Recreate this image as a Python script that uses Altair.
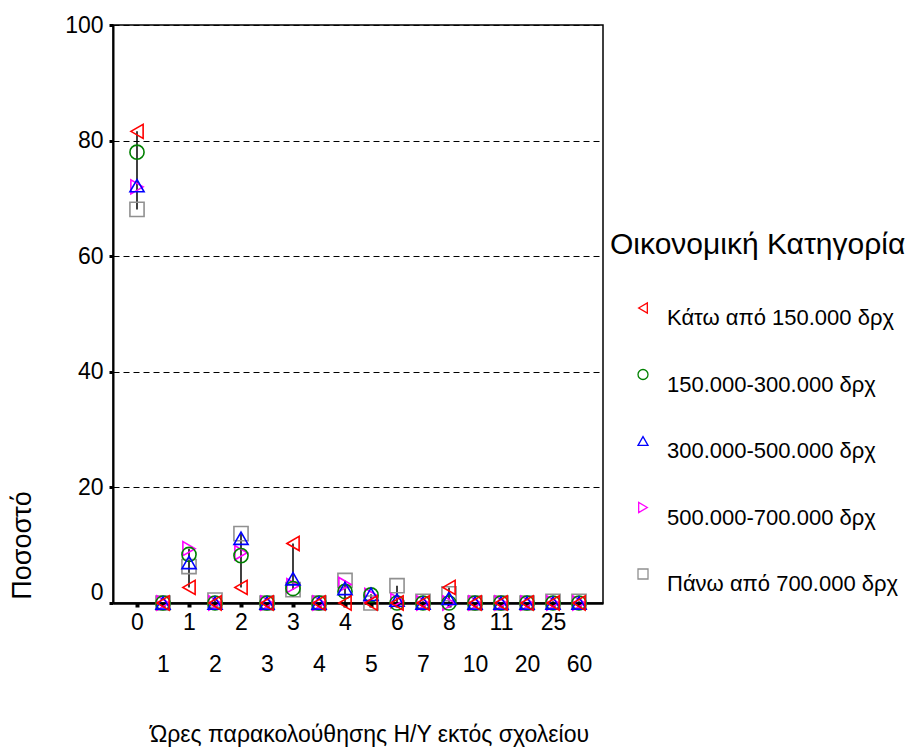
import json
import altair as alt
import pandas as pd

# Category labels (as printed on the axis, two staggered rows)
x_labels = ["0", "1", "1", "2", "2", "3", "3", "4", "4", "5", "6", "7", "8", "10", "11", "20", "25", "60"]

series_names = [
    "Κάτω από 150.000 δρχ",
    "150.000-300.000 δρχ",
    "300.000-500.000 δρχ",
    "500.000-700.000 δρχ",
    "Πάνω από 700.000 δρχ",
]

below_150 = [81.6, 0, 2.7, 0, 2.7, 0, 10.3, 0, 0, 0, 0, 0, 2.7, 0, 0, 0, 0, 0]
from_150_300 = [78.0, 0, 8.4, 0, 8.2, 0, 2.5, 0, 2.0, 1.4, 0, 0, 0, 0, 0, 0, 0, 0]
from_300_500 = [72.2, 0, 7.0, 0, 11.2, 0, 4.2, 0, 2.5, 1.5, 0.5, 0, 0.8, 0, 0, 0, 0, 0]
from_500_700 = [72.0, 0, 9.4, 0, 8.7, 0, 3.0, 0, 3.2, 1.3, 0.4, 0, 0, 0, 0, 0, 0, 0]
above_700 = [68.1, 0, 6.3, 0.5, 12.0, 0, 2.3, 0, 3.9, 0, 3.0, 0.3, 1.6, 0, 0, 0, 0.3, 0.3]

series_values = [below_150, from_150_300, from_300_500, from_500_700, above_700]
series_colors = ["#FF0000", "#008000", "#0000FF", "#FF00FF", "#909090"]
series_shapes = ["triangle-left", "circle", "triangle-up", "triangle-right", "square"]
draw_rank = [5, 3, 4, 2, 1]  # red drawn on top, gray at the bottom

rows = []
for name, vals, z in zip(series_names, series_values, draw_rank):
    for i, v in enumerate(vals):
        rows.append({"pos": i, "series": name, "value": v, "z": z})
df = pd.DataFrame(rows)

FONT = "Liberation Sans"
label_expr = json.dumps(x_labels, ensure_ascii=False) + "[datum.value]"

x_enc = alt.X(
    "pos:O",
    scale=alt.Scale(type="point", padding=0.923),
    axis=alt.Axis(
        title="Ώρες παρακολούθησης Η/Υ εκτός σχολείου",
        labelExpr=label_expr,
        labelAngle=0,
        labelFontSize=23,
        labelFont=FONT,
        labelColor="black",
        labelPadding={"condition": {"test": "datum.value % 2 == 1", "value": 46}, "value": 4},
        tickSize=4,
        tickWidth=4,
        tickColor="black",
        domainColor="black",
        domainWidth=2.5,
        titleFontSize=23,
        titleFont=FONT,
        titleFontWeight="normal",
        titleColor="black",
        titleX=256,
        titleY=138,
        titleAlign="center",
        titleBaseline="alphabetic",
        grid=False,
    ),
)

y_axis = alt.Axis(
    title="Ποσοστό",
    values=[0, 20, 40, 60, 80, 100],
    labelFontSize=23,
    labelFont=FONT,
    labelColor="black",
    labelPadding=6,
    labelOffset={"condition": {"test": "datum.value == 0", "value": -11}, "value": 0},
    tickSize=4,
    tickWidth=3,
    tickColor="black",
    domainColor="black",
    domainWidth=2,
    grid=True,
    gridColor="black",
    gridDash=[6, 4],
    gridWidth=1,
    gridOpacity=1,
    titleFontSize=27,
    titleFont=FONT,
    titleFontWeight="normal",
    titleColor="black",
    titleX=-91,
    titleY=520,
    titleAlign="center",
    titleBaseline="middle",
)
y_scale = alt.Scale(domain=[0, 100], nice=False)

legend = alt.Legend(
    title="Οικονομική Κατηγορία",
    orient="none",
    legendX=497,
    legendY=205,
    padding=0,
    titleFontSize=30,
    titleFont=FONT,
    titleFontWeight="normal",
    titleColor="black",
    titlePadding=37,
    titleLimit=500,
    labelFontSize=22,
    labelFont=FONT,
    labelColor="black",
    labelBaseline="top",
    labelLimit=500,
    labelOffset=13,
    rowPadding=34.5,
    symbolOffset=22,
    symbolSize=100,
    symbolStrokeWidth=1.3,
)

rule = (
    alt.Chart(df)
    .transform_aggregate(lo="min(value)", hi="max(value)", groupby=["pos"])
    .mark_rule(color="black", strokeWidth=1.5)
    .encode(
        x=x_enc,
        y=alt.Y("lo:Q", scale=y_scale, axis=y_axis),
        y2="hi:Q",
    )
)

points = (
    alt.Chart(df)
    .mark_point(filled=False, size=200, strokeWidth=1.6, opacity=1)
    .encode(
        x=x_enc,
        y=alt.Y("value:Q", scale=y_scale, axis=y_axis),
        color=alt.Color("series:N", scale=alt.Scale(domain=series_names, range=series_colors), legend=legend),
        shape=alt.Shape("series:N", scale=alt.Scale(domain=series_names, range=series_shapes), legend=legend),
        order=alt.Order("z:Q"),
    )
)

chart = (
    alt.layer(rule, points)
    .properties(
        width=490,
        height=578,
        padding={"left": 105, "top": 17, "right": 306, "bottom": 145},
        autosize=alt.AutoSizeParams(type="none"),
        background="white",
    )
    .configure_view(stroke="black", strokeWidth=1.5)
)

chart.save("out.html", embed_options={"renderer": "svg", "actions": False})
